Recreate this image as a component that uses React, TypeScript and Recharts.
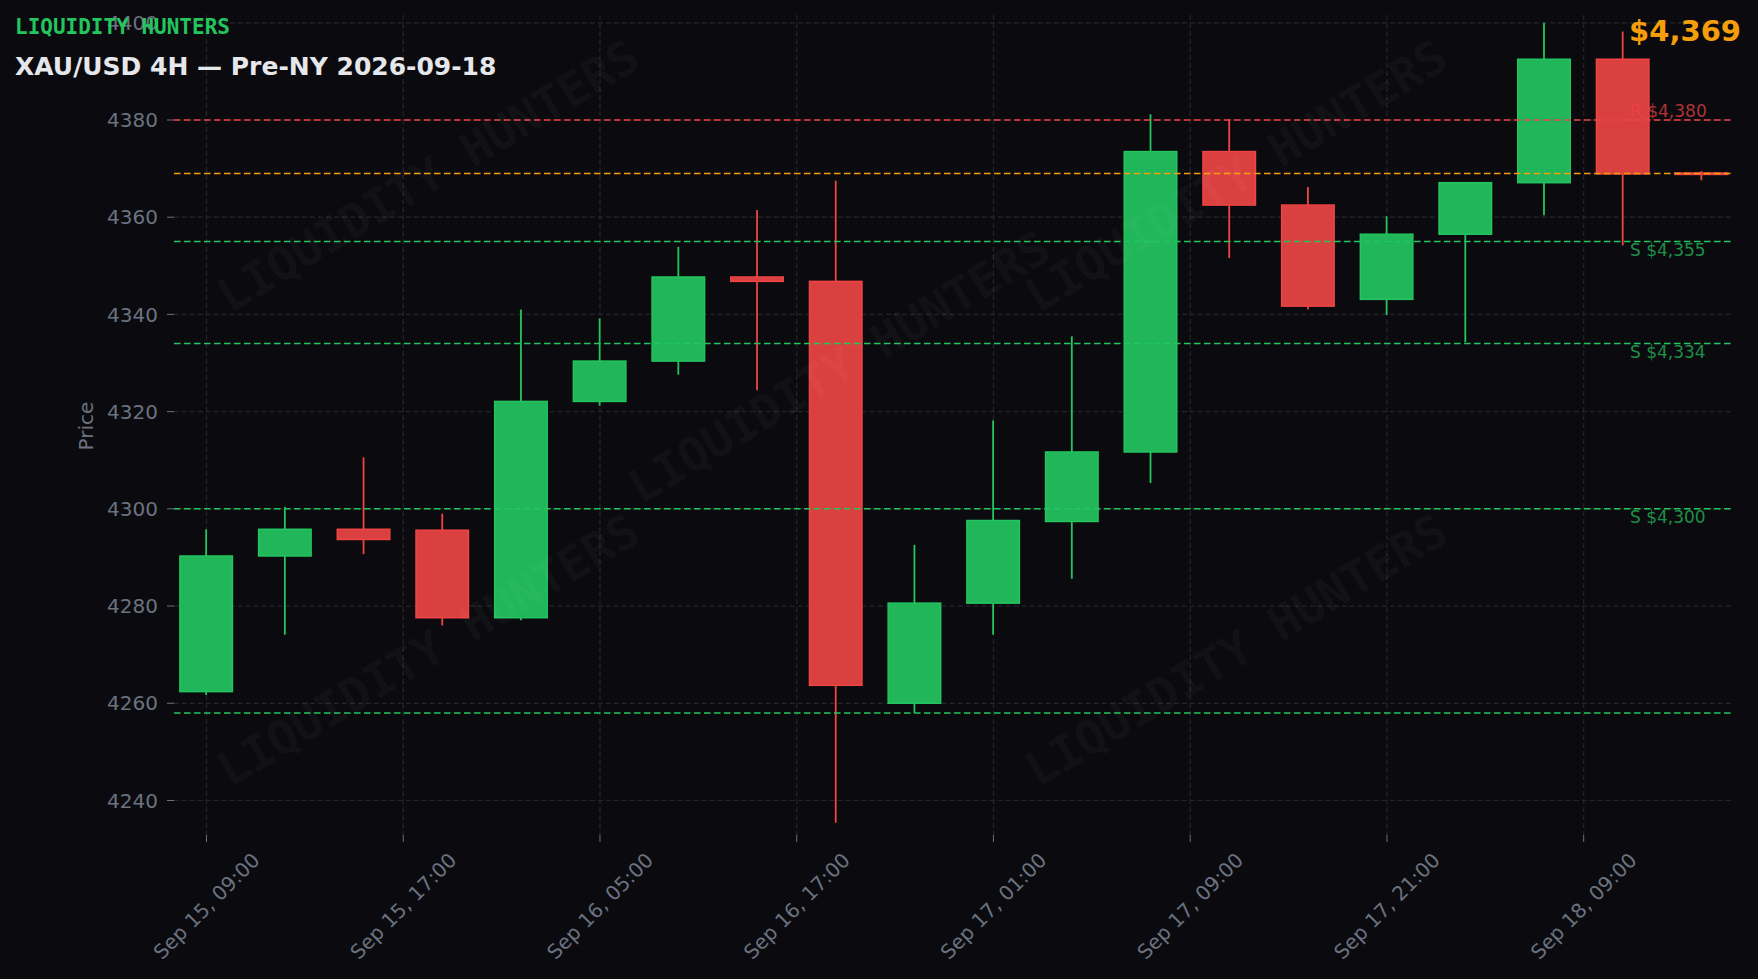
import React from 'react';
import { Bar, CartesianGrid, ComposedChart, ReferenceLine, XAxis, YAxis } from 'recharts';

// candle index 0..19 (4H candles)
const opens = [4262.4, 4290.3, 4295.8, 4295.6, 4277.6, 4322.1, 4330.4, 4347.7, 4346.8, 4260.0, 4280.6, 4297.4, 4311.7, 4373.5, 4362.5, 4343.1, 4356.5, 4367.1, 4392.5, 4369.1];
const highs = [4295.8, 4300.4, 4310.6, 4299.0, 4341.0, 4339.2, 4353.9, 4361.5, 4367.5, 4292.6, 4318.2, 4335.5, 4381.2, 4380.2, 4366.2, 4360.2, 4367.1, 4400.0, 4398.2, 4369.5];
const lows = [4261.7, 4274.1, 4290.7, 4276.0, 4277.1, 4321.2, 4327.6, 4324.4, 4235.4, 4258.0, 4274.1, 4285.6, 4305.3, 4351.6, 4341.0, 4339.9, 4334.3, 4360.4, 4354.2, 4367.6];
const closes = [4290.3, 4295.8, 4293.7, 4277.6, 4322.1, 4330.4, 4347.7, 4346.8, 4263.7, 4280.6, 4297.6, 4311.7, 4373.5, 4362.5, 4341.7, 4356.5, 4367.1, 4392.5, 4368.9, 4368.8];

const xTicks = [0, 2.5, 5, 7.5, 10, 12.5, 15, 17.5];
const xTickLabels = ['Sep 15, 09:00', 'Sep 15, 17:00', 'Sep 16, 05:00', 'Sep 16, 17:00', 'Sep 17, 01:00', 'Sep 17, 09:00', 'Sep 17, 21:00', 'Sep 18, 09:00'];
const yTicks = [4240, 4260, 4280, 4300, 4320, 4340, 4360, 4380, 4400];

const resistance = [4380];
const supports = [4355, 4334, 4300];
const liquidity = [4258];
const lastPrice = 4369;

const X_DOMAIN = [-0.413, 19.41];
const Y_DOMAIN = [4232.9, 4401.6];

const data = opens.map((o, i) => ({
  idx: i,
  open: o,
  high: highs[i],
  low: lows[i],
  close: closes[i],
}));

const BG = '#0b0b0f';
const GREEN = '#22c55e';
const GREEN_FILL = '#21b65a';
const RED = '#ef4444';
const RED_FILL = '#db4040';
const ORANGE = '#f59e0b';
const MUTED = '#6b7280';
const FONT = '"DejaVu Sans", sans-serif';
const MONO = '"DejaVu Sans Mono", monospace';

const Candle = (props: any) => {
  const { x, y, width, height, payload } = props;
  if (x == null || y == null) return null;
  const top = Math.min(y, y + height);
  const h = Math.abs(height);
  const range = payload.high - payload.low;
  const k = range > 0 ? h / range : 0;
  const yOf = (v: number) => top + (payload.high - v) * k;
  const up = payload.close >= payload.open;
  const edge = up ? GREEN : RED;
  const fill = up ? GREEN_FILL : RED_FILL;
  const cx = x + width / 2;
  const bTop = yOf(Math.max(payload.open, payload.close));
  const bBot = yOf(Math.min(payload.open, payload.close));
  return (
    <g>
      <line x1={cx} x2={cx} y1={yOf(payload.high)} y2={yOf(payload.low)} stroke={edge} strokeWidth={1.8} />
      <rect x={x + 0.75} y={bTop} width={width - 1.5} height={Math.max(bBot - bTop, 1)} fill={fill} stroke={edge} strokeWidth={1.5} />
    </g>
  );
};

const XTick = (props: any) => {
  const { x, y, payload } = props;
  const i = xTicks.indexOf(payload.value);
  return (
    <g transform={`translate(${x},${y + 62}) rotate(-45)`}>
      <text textAnchor="middle" dominantBaseline="central" fill={MUTED} fontSize={20} fontFamily={FONT}>
        {xTickLabels[i]}
      </text>
    </g>
  );
};

const LevelLabel = (props: any) => {
  const { viewBox, text, color, above } = props;
  if (!viewBox) return null;
  return (
    <text
      x={viewBox.x + viewBox.width - 104}
      y={above ? viewBox.y - 3 : viewBox.y + 14.5}
      fill={color}
      fillOpacity={0.72}
      fontSize={17}
      fontFamily={FONT}
    >
      {text}
    </text>
  );
};

// grid only at tick values (no border lines)
const gridY = (p: any) => {
  const s = p?.yAxis?.scale;
  if (typeof s === 'function') return yTicks.map((t) => s(t));
  const o = p?.offset;
  if (!o) return [];
  return yTicks.map((t) => o.top + ((Y_DOMAIN[1] - t) / (Y_DOMAIN[1] - Y_DOMAIN[0])) * o.height);
};
const gridX = (p: any) => {
  const s = p?.xAxis?.scale;
  if (typeof s === 'function') return xTicks.map((t) => s(t));
  const o = p?.offset;
  if (!o) return [];
  return xTicks.map((t) => o.left + ((t - X_DOMAIN[0]) / (X_DOMAIN[1] - X_DOMAIN[0])) * o.width);
};

const watermarks = [
  [428, 176],
  [839, 367],
  [1236, 176],
  [428, 650],
  [1236, 650],
];

export default function App() {
  return (
    <div style={{ position: 'fixed', left: 0, top: 0, width: 1758, height: 979, background: BG }}>
      <ComposedChart width={1758} height={979} data={data} margin={{ top: 15, right: 24, left: 0, bottom: 0 }}>
        <CartesianGrid
          stroke="#24242c"
          strokeDasharray="5 3"
          strokeWidth={1.2}
          horizontalCoordinatesGenerator={gridY}
          verticalCoordinatesGenerator={gridX}
        />
        <XAxis
          dataKey="idx"
          type="number"
          domain={X_DOMAIN}
          ticks={xTicks}
          interval={0}
          height={144}
          axisLine={false}
          tickLine={{ stroke: MUTED }}
          tickSize={7}
          tick={<XTick />}
          allowDataOverflow
        />
        <YAxis
          type="number"
          domain={Y_DOMAIN}
          ticks={yTicks}
          width={174}
          axisLine={false}
          tickLine={{ stroke: MUTED }}
          tickSize={7}
          tickMargin={9}
          tick={{ fill: MUTED, fontSize: 20, fontFamily: FONT }}
          allowDataOverflow
        />
        <Bar dataKey={(d: any) => [d.low, d.high]} barSize={54} shape={<Candle />} isAnimationActive={false} />
        {liquidity.map((v) => (
          <ReferenceLine key={'l' + v} y={v} stroke={GREEN} strokeWidth={1.5} strokeDasharray="6.5 3.5" />
        ))}
        {supports.map((v) => (
          <ReferenceLine
            key={'s' + v}
            y={v}
            stroke={GREEN}
            strokeWidth={1.5}
            strokeDasharray="6.5 3.5"
            label={<LevelLabel text={`S $${v.toLocaleString('en-US')}`} color={GREEN} />}
          />
        ))}
        {resistance.map((v) => (
          <ReferenceLine
            key={'r' + v}
            y={v}
            stroke={RED}
            strokeWidth={1.5}
            strokeDasharray="6.5 3.5"
            label={<LevelLabel text={`R $${v.toLocaleString('en-US')}`} color={RED} above />}
          />
        ))}
        <ReferenceLine y={lastPrice} stroke={ORANGE} strokeWidth={1.5} strokeDasharray="6.5 3.5" />
      </ComposedChart>
      <svg width={1758} height={979} style={{ position: 'absolute', left: 0, top: 0, pointerEvents: 'none' }}>
        {watermarks.map(([wx, wy], i) => (
          <text
            key={i}
            transform={`translate(${wx},${wy}) rotate(-31)`}
            textAnchor="middle"
            dominantBaseline="central"
            fill="#ffffff"
            fillOpacity={0.04}
            fontSize={47}
            fontWeight="bold"
            fontFamily={MONO}
          >
            LIQUIDITY HUNTERS
          </text>
        ))}
        <text x={15} y={34} fill={GREEN} fontSize={21} fontWeight="bold" fontFamily={MONO}>
          LIQUIDITY HUNTERS
        </text>
        <text x={15} y={75} fill="#e5e7eb" fontSize={25} fontWeight="bold" fontFamily={FONT}>
          XAU/USD 4H — Pre-NY 2026-09-18
        </text>
        <text x={1741} y={41} textAnchor="end" fill={ORANGE} fontSize={29} fontWeight="bold" fontFamily={FONT}>
          $4,369
        </text>
        <text transform="translate(86,426) rotate(-90)" textAnchor="middle" dominantBaseline="central" fill={MUTED} fontSize={20} fontFamily={FONT}>
          Price
        </text>
      </svg>
    </div>
  );
}
